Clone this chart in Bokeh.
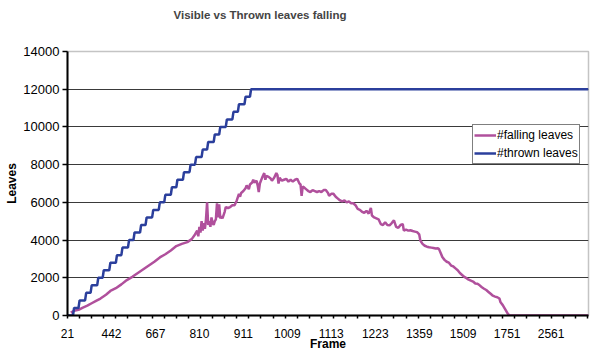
from bokeh.plotting import figure
from bokeh.models import Range1d, FixedTicker, Legend, LegendItem, ColumnDataSource, Title
from bokeh.embed import file_html
from bokeh.resources import INLINE

# ---------------- data ----------------
frame_labels = ["21", "442", "667", "810", "911", "1009", "1113", "1223",
                "1359", "1509", "1751", "2561"]
label_every = 40          # categories between x labels
tick_every = 11           # categories between x tick marks
n_categories = 475

y_ticks = [0, 2000, 4000, 6000, 8000, 10000, 12000, 14000]

# thrown leaves: category index where each new batch of 400 is thrown
thrown_rise_idx = [6, 11, 17, 22, 28, 33, 39, 45, 50, 56, 61, 67, 72, 78, 84,
                   89, 95, 100, 106, 112, 117, 123, 128, 134, 139, 145, 151,
                   156, 162, 167]
thrown_levels = [0, 400, 800, 1200, 1600, 2000, 2400, 2800, 3200, 3600, 4000,
                 4400, 4800, 5200, 5600, 6000, 6400, 6800, 7200, 7600, 8000,
                 8400, 8800, 9200, 9600, 10000, 10400, 10800, 11200, 11600,
                 12000]

# falling (visible) leaves, sampled at category indices
falling_idx = [3, 6, 10, 14, 18, 22, 26, 30, 35, 39, 44, 49, 54, 59, 64, 69,
               74, 79, 84, 89, 94, 99, 104, 109, 113, 116, 118, 119, 120, 121,
               122, 123, 124, 125, 126, 127, 128, 129, 130, 131, 132, 133, 134,
               135, 136, 137, 138, 139, 140, 141, 143, 144, 146, 148, 150, 152,
               154, 156, 157, 158, 160, 162, 163, 165, 166, 168, 169, 170, 172,
               173, 174, 175, 177, 179, 180, 181, 183, 185, 186, 188, 190, 191,
               192, 193, 195, 197, 199, 201, 203, 205, 207, 209, 211, 212, 213,
               214, 215, 217, 219, 221, 223, 225, 227, 229, 231, 233, 235, 237,
               238, 240, 242, 244, 246, 248, 250, 252, 254, 256, 258, 260, 262,
               264, 266, 268, 270, 272, 274, 276, 277, 279, 281, 283, 285, 287,
               289, 291, 293, 295, 297, 299, 301, 303, 305, 306, 308, 310, 312,
               314, 316, 318, 320, 321, 323, 325, 327, 329, 331, 333, 335, 337,
               338, 340, 341, 343, 345, 347, 349, 351, 353, 355, 357, 359, 361,
               363, 365, 367, 369, 371, 373, 375, 377, 379, 381, 383, 385, 387,
               389, 391, 393, 394, 396, 398, 400, 402, 474]
falling_val = [150, 250, 300, 420, 520, 650, 780, 900, 1100, 1300, 1450, 1650,
               1880, 2050, 2250, 2450, 2650, 2850, 3080, 3250, 3450, 3680, 3800,
               3890, 4050, 4300, 4500, 4200, 4700, 4400, 5000, 4500, 4900, 4600,
               5100, 6000, 4800, 5000, 4700, 5200, 4900, 4800, 5000, 5100, 5950,
               5200, 5900, 5150, 5250, 5150, 5500, 5750, 5700, 5750, 5850, 5850,
               6100, 6450, 6300, 6500, 6600, 6750, 6900, 6700, 6950, 7050, 7200,
               7050, 7150, 6900, 6550, 7000, 7300, 7550, 7200, 7400, 7350, 7250,
               7150, 7300, 7550, 7450, 7000, 7300, 7150, 7200, 7250, 7100, 7200,
               7100, 7200, 7250, 7000, 6950, 6350, 6850, 6800, 6700, 6600, 6550,
               6650, 6600, 6550, 6600, 6550, 6650, 6650, 6500, 6350, 6450, 6450,
               6300, 6200, 6100, 6050, 6100, 6000, 6050, 5950, 5950, 5850, 5650,
               5600, 5500, 5450, 5550, 5400, 5700, 5300, 5200, 5150, 5100, 4850,
               4800, 4950, 4800, 4780, 4900, 5050, 4700, 4650, 4800, 4850, 4500,
               4550, 4500, 4520, 4480, 4450, 4420, 4300, 3980, 3800, 3700, 3650,
               3620, 3600, 3580, 3550, 3560, 3520, 3250, 3100, 2950, 2850, 2800,
               2650, 2600, 2500, 2400, 2250, 2150, 2050, 1980, 1900, 1850, 1800,
               1700, 1680, 1600, 1500, 1420, 1350, 1250, 1150, 1050, 1000, 970,
               900, 700, 550, 350, 150, 0, 0]

# staircase path for thrown leaves
bx, by = [0], [0]
for r, lo, hi in zip(thrown_rise_idx, thrown_levels[:-1], thrown_levels[1:]):
    bx += [r - 1, r]
    by += [lo, hi]
bx.append(n_categories - 1)
by.append(thrown_levels[-1])

# ---------------- figure ----------------
FONT = "Liberation Sans"
p = figure(width=596, height=357, output_backend="svg", toolbar_location=None,
           x_range=Range1d(0, n_categories - 1), y_range=Range1d(0, 14000),
           min_border_left=67, min_border_right=8, min_border_top=51,
           min_border_bottom=42)
p.background_fill_color = "white"
p.border_fill_color = "white"
p.outline_line_color = "#c4c4c4"
p.outline_line_width = 1.5
p.title_location = None

# spacer (closest to frame) then the real title above it
p.add_layout(Title(text=" ", text_font=FONT, text_font_size="12px", standoff=15), "above")
p.add_layout(Title(text="Visible vs Thrown leaves falling", text_font=FONT,
                   text_font_size="11.5px", text_font_style="bold",
                   align="left", offset=106, standoff=0,
                   vertical_align="bottom"), "above")

falling_src = ColumnDataSource(dict(x=falling_idx, y=falling_val))
thrown_src = ColumnDataSource(dict(x=bx, y=by))
r_fall = p.line("x", "y", source=falling_src, line_color="#b0509c", line_width=2.5)
r_thrown = p.line("x", "y", source=thrown_src, line_color="#2b3f9c", line_width=2.5)

# x axis
xa = p.xaxis[0]
major_x = [k * label_every for k in range(len(frame_labels))]
minor_x = list(range(0, n_categories, tick_every))
xa.ticker = FixedTicker(ticks=major_x, minor_ticks=minor_x)
xa.major_label_overrides = {m: lab for m, lab in zip(major_x, frame_labels)}
xa.major_tick_out = 0
xa.major_tick_in = 0
xa.minor_tick_out = 3
xa.minor_tick_in = 0
xa.minor_tick_line_color = "black"
xa.minor_tick_line_width = 1.5
xa.axis_line_color = "black"
xa.axis_line_width = 2
xa.major_label_standoff = 10
xa.major_label_text_font = FONT
xa.major_label_text_font_size = "12px"
xa.major_label_text_color = "black"
xa.axis_label = "Frame"
xa.axis_label_text_font = FONT
xa.axis_label_text_font_size = "12px"
xa.axis_label_text_font_style = "bold"
xa.axis_label_standoff = -4
xa.axis_label_text_color = "black"

# y axis
ya = p.yaxis[0]
ya.ticker = FixedTicker(ticks=y_ticks, minor_ticks=[])
ya.major_tick_out = 5
ya.major_tick_in = 0
ya.major_tick_line_width = 1.5
ya.major_tick_line_color = "black"
ya.axis_line_color = "black"
ya.axis_line_width = 2
ya.major_label_standoff = 3
ya.major_label_text_font = FONT
ya.major_label_text_font_size = "13px"
ya.major_label_text_color = "black"
ya.axis_label = "Leaves"
ya.axis_label_text_font = FONT
ya.axis_label_text_font_size = "12px"
ya.axis_label_text_font_style = "bold"
ya.axis_label_standoff = 1
ya.axis_label_text_color = "black"

p.xgrid.visible = False
p.ygrid.ticker = FixedTicker(ticks=y_ticks[1:-1], minor_ticks=[])
p.ygrid.grid_line_color = "#3a3a3a"
p.ygrid.grid_line_width = 1

legend = Legend(items=[LegendItem(label="#falling leaves", renderers=[r_fall]),
                       LegendItem(label="#thrown leaves", renderers=[r_thrown])],
                location=(405, 151))
legend.border_line_color = "black"
legend.border_line_width = 1
legend.background_fill_color = "white"
legend.background_fill_alpha = 1
legend.label_text_font = FONT
legend.label_text_font_size = "12px"
legend.label_text_color = "black"
legend.glyph_width = 22
legend.glyph_height = 18
legend.label_height = 18
legend.label_standoff = 1
legend.spacing = 0
legend.padding = 1
legend.margin = 0
p.add_layout(legend)

open("out.html", "w").write(file_html(p, INLINE))
